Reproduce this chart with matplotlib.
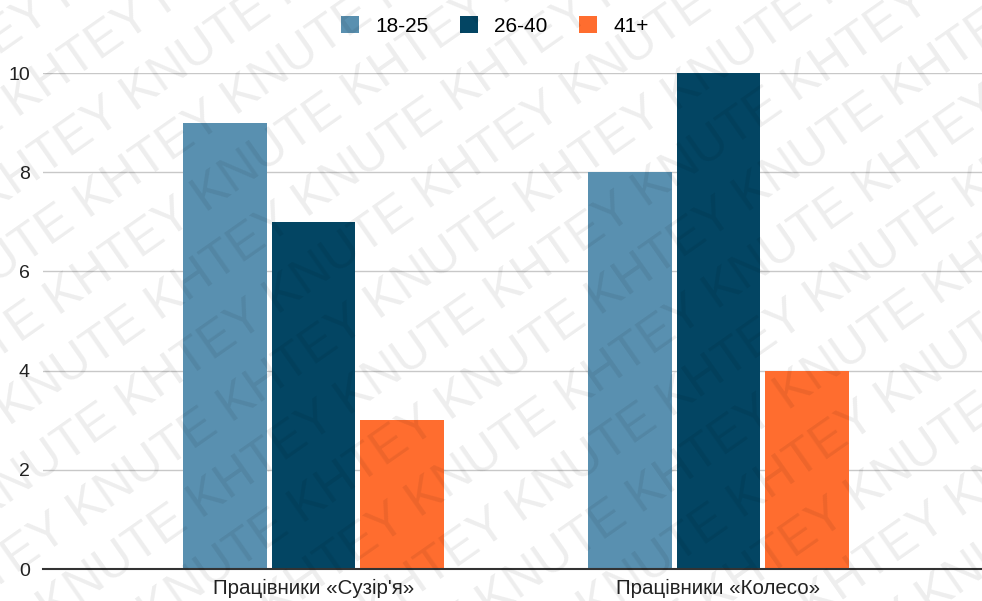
import numpy as np
import matplotlib
matplotlib.use('Agg')
import matplotlib.pyplot as plt
from matplotlib.patches import Patch

plt.rcParams['font.family'] = ['Liberation Sans', 'DejaVu Sans']

groups = ['Працівники «Сузір\'я»', 'Працівники «Колесо»']
series = ['18-25', '26-40', '41+']
values = {
    '18-25': [9, 8],
    '26-40': [7, 10],
    '41+': [3, 4],
}
colors = ['#5990b0', '#034563', '#ff6d2f']
yticks = [0, 2, 4, 6, 8, 10]
watermark = 'KHTEY KNUTE '

W, H = 982, 601
fig = plt.figure(figsize=(W / 100, H / 100), dpi=100)
ax = fig.add_axes([43 / W, (H - 569) / H, (989 - 43) / W, (569 - 73) / H])

x = np.arange(len(groups))
width = 0.207
step = 0.2185
for i, name in enumerate(series):
    ax.bar(x + (i - 1) * step, values[name], width, color=colors[i],
           label=name, zorder=3)

ax.set_xlim(-0.668, 1.668)
ax.set_ylim(0, 10)
ax.set_yticks(yticks)
ax.set_yticklabels([str(t) for t in yticks], fontsize=14, color='#222222')
ax.set_xticks(x)
ax.set_xticklabels(groups, fontsize=14.8, color='#222222')
ax.tick_params(axis='both', length=0)
ax.tick_params(axis='y', pad=9.5)
ax.tick_params(axis='x', pad=7)
ax.grid(axis='y', color='#c8c8c8', linewidth=1, zorder=0)
ax.set_axisbelow(True)
for s in ['left', 'right', 'top']:
    ax.spines[s].set_visible(False)
ax.spines['bottom'].set_color('#333333')
ax.spines['bottom'].set_linewidth(1.5)
ax.spines['bottom'].set_zorder(4)

handles = [Patch(facecolor=c, edgecolor='none') for c in colors]
fig.legend(handles, series, loc='center', bbox_to_anchor=(495 / W, 1 - 26 / H),
           ncol=3, frameon=False, fontsize=15, handlelength=0.85,
           handleheight=0.85, handletextpad=0.8, columnspacing=1.5)

# diagonal watermark
ang = np.deg2rad(35)
dx, dy = np.cos(ang), np.sin(ang)
nx, ny = -dy, dx
cx, cy = W / 2, H / 2
for k in range(-12, 13):
    off = k * 62
    px = cx + nx * off + dx * (k % 2) * 80
    py = cy + ny * off + dy * (k % 2) * 80
    fig.text(px / W, py / H, watermark * 8, rotation=35, rotation_mode='anchor',
             ha='center', va='center', fontsize=36, color='#000000',
             alpha=0.07, zorder=10, clip_on=True)

fig.savefig('out.png', dpi=100)
